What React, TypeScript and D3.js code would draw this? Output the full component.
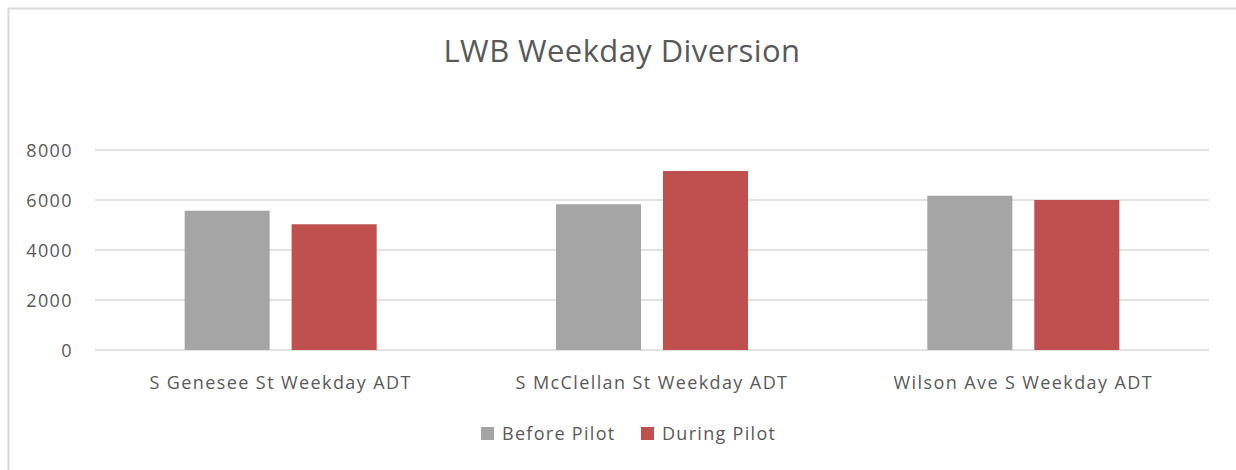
import * as d3 from 'd3'

const CATEGORIES = ['S Genesee St Weekday ADT', 'S McClellan St Weekday ADT', 'Wilson Ave S Weekday ADT']
const SERIES = ['Before Pilot', 'During Pilot']
const BEFORE_PILOT = [5570, 5830, 6170]
const DURING_PILOT = [5030, 7160, 6000]
const Y_TICKS = [0, 2000, 4000, 6000, 8000]

const COLORS: Record<string, string> = {
  'Before Pilot': '#A5A5A5',
  'During Pilot': '#C0504D'
}

const WIDTH = 1236
const HEIGHT = 470
const PLOT = { left: 95, right: 1209, top: 150, bottom: 350 }
const FONT = '"Open Sans", "Noto Sans", sans-serif'
const TEXT = '#595959'

export default function App() {
  const rows = CATEGORIES.map((name, i) => ({
    name,
    values: [BEFORE_PILOT[i], DURING_PILOT[i]]
  }))

  const x0 = d3.scaleBand<string>()
    .domain(CATEGORIES)
    .range([PLOT.left, PLOT.right])
    .padding(0)

  const x1 = d3.scaleBand<string>()
    .domain(SERIES)
    .range([0, x0.bandwidth()])
    .paddingInner(0.205)
    .paddingOuter(0.838)

  const y = d3.scaleLinear()
    .domain([0, 8000])
    .range([PLOT.bottom, PLOT.top])

  return (
    <>
      <style>{'body{margin:0}'}</style>
      <svg width={WIDTH} height={HEIGHT} style={{ display: 'block', background: '#fff' }}>
        {/* chart frame */}
        <line x1={8.5} x2={8.5} y1={8} y2={HEIGHT} stroke="#D9D9D9" strokeWidth={2} />
        <line x1={8} x2={WIDTH} y1={8.5} y2={8.5} stroke="#D9D9D9" strokeWidth={2} />

        <text x={622} y={62} textAnchor="middle" fill={TEXT} fontFamily={FONT} fontSize={31} letterSpacing={0.4}>
          LWB Weekday Diversion
        </text>

        {/* gridlines + y labels */}
        {Y_TICKS.map(t => (
          <g key={t}>
            <line x1={PLOT.left} x2={PLOT.right} y1={y(t)} y2={y(t)} stroke="#D9D9D9" strokeWidth={1.5} />
            <text x={73} y={y(t) + 6.5} textAnchor="end" fill={TEXT} fontFamily={FONT} fontSize={18} letterSpacing={1.4}>
              {t}
            </text>
          </g>
        ))}

        {/* bars */}
        {rows.map(r => (
          <g key={r.name} transform={`translate(${x0(r.name)},0)`}>
            {SERIES.map((s, j) => (
              <rect
                key={s}
                x={x1(s)}
                y={y(r.values[j])}
                width={x1.bandwidth()}
                height={y(0) - y(r.values[j])}
                fill={COLORS[s]}
              />
            ))}
            <text
              x={x0.bandwidth() / 2}
              y={389}
              textAnchor="middle"
              fill={TEXT}
              fontFamily={FONT}
              fontSize={18}
              letterSpacing={1.4}
            >
              {r.name}
            </text>
          </g>
        ))}

        {/* legend */}
        {SERIES.map((s, i) => {
          const lx = 481 + i * 160
          return (
            <g key={s}>
              <rect x={lx} y={427} width={13} height={13} fill={COLORS[s]} />
              <text x={lx + 21} y={440} fill={TEXT} fontFamily={FONT} fontSize={18} letterSpacing={1.3}>
                {s}
              </text>
            </g>
          )
        })}
      </svg>
    </>
  )
}
